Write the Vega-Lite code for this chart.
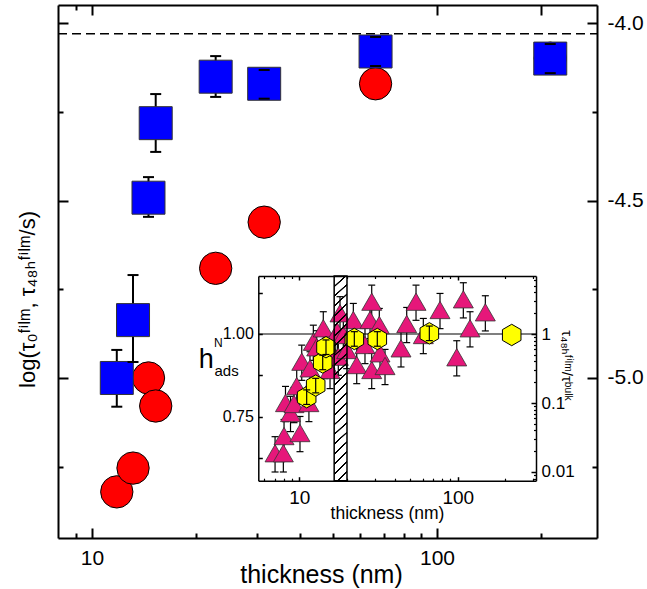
{
"$schema": "https://vega.github.io/schema/vega-lite/v6.json",
"width": 539, "height": 533,
"autosize": "none",
"padding": {"left": 58, "top": 5, "right": 50, "bottom": 51},
"background": "white",
"config": {
  "view": {"stroke": null},
  "axis": {"grid": false, "domainColor": "black", "tickColor": "black", "labelColor": "black", "titleColor": "black",
           "labelFont": "Liberation Sans", "titleFont": "Liberation Sans, DejaVu Sans", "titleFontWeight": "normal",
           "labelFlush": false, "labelOverlap": false, "domainWidth": 2, "tickWidth": 2}
},
"datasets": {
  "main": [
    {"t": 11.8, "sq": -5.0, "sqlo": -5.081, "sqhi": -4.921, "circ": -5.321},
    {"t": 13.15, "sq": -4.837, "sqlo": -4.955, "sqhi": -4.71, "circ": -5.254},
    {"t": 14.58, "sq": -4.492, "sqlo": -4.546, "sqhi": -4.434, "circ": -5.0},
    {"t": 15.3, "sq": -4.282, "sqlo": -4.363, "sqhi": -4.2, "circ": -5.079},
    {"t": 22.83, "sq": -4.151, "sqlo": -4.208, "sqhi": -4.093, "circ": -4.691},
    {"t": 31.56, "sq": -4.171, "sqlo": -4.213, "sqhi": -4.132, "circ": -4.561},
    {"t": 66.37, "sq": -4.08, "sqlo": -4.121, "sqhi": -4.039, "circ": -4.171},
    {"t": 213.0, "sq": -4.1, "sqlo": -4.141, "sqhi": -4.059, "circ": -4.099}
  ],
  "tri": [
    {"t": 7.03, "r": 0.0187, "rlo": 0.0100, "rhi": 0.0325},
    {"t": 7.93, "r": 0.0187, "rlo": 0.0100, "rhi": 0.0325},
    {"t": 8.01, "r": 0.0332, "rlo": 0.0178, "rhi": 0.0577},
    {"t": 10.1, "r": 0.0367, "rlo": 0.0197, "rhi": 0.0638},
    {"t": 8.18, "r": 0.100, "rlo": 0.0537, "rhi": 0.174},
    {"t": 8.80, "r": 0.0717, "rlo": 0.0385, "rhi": 0.125},
    {"t": 9.26, "r": 0.0967, "rlo": 0.0519, "rhi": 0.168},
    {"t": 9.63, "r": 0.176, "rlo": 0.0945, "rhi": 0.306},
    {"t": 11.5, "r": 0.100, "rlo": 0.0537, "rhi": 0.174},
    {"t": 10.36, "r": 0.397, "rlo": 0.213, "rhi": 0.690},
    {"t": 11.68, "r": 0.318, "rlo": 0.171, "rhi": 0.553},
    {"t": 12.26, "r": 0.773, "rlo": 0.415, "rhi": 1.343},
    {"t": 12.88, "r": 0.642, "rlo": 0.345, "rhi": 1.116},
    {"t": 14.17, "r": 1.21, "rlo": 0.650, "rhi": 2.103},
    {"t": 14.53, "r": 0.42, "rlo": 0.2255, "rhi": 0.730},
    {"t": 15.63, "r": 0.301, "rlo": 0.1616, "rhi": 0.523},
    {"t": 16.02, "r": 0.554, "rlo": 0.2975, "rhi": 0.963},
    {"t": 17.38, "r": 1.08, "rlo": 0.580, "rhi": 1.877},
    {"t": 17.63, "r": 0.469, "rlo": 0.252, "rhi": 0.815},
    {"t": 18.07, "r": 2.0, "rlo": 1.074, "rhi": 3.476},
    {"t": 18.96, "r": 0.967, "rlo": 0.519, "rhi": 1.681},
    {"t": 19.92, "r": 0.586, "rlo": 0.3147, "rhi": 1.018},
    {"t": 21.93, "r": 1.596, "rlo": 0.857, "rhi": 2.774},
    {"t": 23.04, "r": 0.355, "rlo": 0.1906, "rhi": 0.617},
    {"t": 25.98, "r": 0.693, "rlo": 0.372, "rhi": 1.204},
    {"t": 28.65, "r": 2.94, "rlo": 1.579, "rhi": 5.11},
    {"t": 27.95, "r": 1.596, "rlo": 0.857, "rhi": 2.774},
    {"t": 31.99, "r": 1.35, "rlo": 0.725, "rhi": 2.346},
    {"t": 28.65, "r": 0.301, "rlo": 0.1616, "rhi": 0.523},
    {"t": 32.32, "r": 0.525, "rlo": 0.282, "rhi": 0.912},
    {"t": 34.76, "r": 0.344, "rlo": 0.1847, "rhi": 0.598},
    {"t": 43.85, "r": 0.620, "rlo": 0.333, "rhi": 1.078},
    {"t": 47.64, "r": 1.396, "rlo": 0.750, "rhi": 2.426},
    {"t": 54.55, "r": 2.94, "rlo": 1.579, "rhi": 5.11},
    {"t": 60.65, "r": 0.967, "rlo": 0.519, "rhi": 1.681},
    {"t": 77.3, "r": 2.228, "rlo": 1.196, "rhi": 3.872},
    {"t": 98.6, "r": 0.46, "rlo": 0.247, "rhi": 0.799},
    {"t": 108.5, "r": 3.184, "rlo": 1.710, "rhi": 5.534},
    {"t": 119.6, "r": 1.21, "rlo": 0.650, "rhi": 2.103},
    {"t": 149.4, "r": 2.063, "rlo": 1.108, "rhi": 3.585}
  ],
  "hex": [
    {"t": 11.13, "h": 0.809, "hlo": 0.787, "hhi": 0.831},
    {"t": 12.69, "h": 0.844, "hlo": 0.822, "hhi": 0.866},
    {"t": 14.05, "h": 0.914, "hlo": 0.892, "hhi": 0.936},
    {"t": 14.74, "h": 0.960, "hlo": 0.938, "hhi": 0.982},
    {"t": 22.25, "h": 0.985, "hlo": 0.963, "hhi": 1.007},
    {"t": 31.07, "h": 0.985, "hlo": 0.963, "hhi": 1.007},
    {"t": 66.2, "h": 1.002, "hlo": 0.980, "hhi": 1.024},
    {"t": 219.2, "h": 0.997, "hlo": null, "hhi": null}
  ],
  "band": [{"t1": 16.6, "t2": 20.0}]
},
"resolve": {"scale": {"x": "independent", "y": "independent"}, "axis": {"x": "independent", "y": "independent"}},
"layer": [
  {
    "data": {"values": [{}]},
    "mark": {"type": "rule", "strokeDash": [9, 5], "strokeWidth": 1.5, "color": "black"},
    "encoding": {
      "x": {"datum": 7.97, "type": "quantitative", "scale": {"type": "log", "domain": [7.97, 291], "nice": false},
            "axis": {"orient": "bottom", "values": [10, 100], "tickSize": -10, "labelPadding": 19, "labelFontSize": 21,
                     "labelExpr": "datum.value < 50 ? '10' : '100'", "domain": true,
                     "title": "thickness (nm)", "titleFontSize": 25, "titleX": 263, "titleY": 44, "titleAlign": "center", "titleBaseline": "alphabetic", "titleAngle": 0}},
      "x2": {"datum": 291},
      "y": {"datum": -4.03, "type": "quantitative", "scale": {"type": "linear", "domain": [-5.451, -3.949], "nice": false, "zero": false},
            "axis": {"orient": "left", "values": [-5, -4.5, -4], "tickSize": -10, "labels": false, "domain": true,
                     "title": "log(τ₀ᶠⁱˡᵐ, τ₄₈ₕᶠⁱˡᵐ/s)", "titleFontSize": 22, "titleX": -24, "titleY": 294, "titleAngle": 270, "titleAlign": "center", "titleBaseline": "alphabetic"}}
    }
  },
  {
    "data": {"name": "main"},
    "mark": {"type": "point", "shape": "circle", "size": 1046, "filled": true, "fill": "#FF0000", "stroke": "black", "strokeWidth": 1, "opacity": 1},
    "encoding": {
      "x": {"field": "t", "type": "quantitative", "scale": {"type": "log", "domain": [7.97, 291], "nice": false},
            "axis": {"orient": "bottom", "values": [9, 20, 30, 40, 50, 60, 70, 80, 90, 200], "tickSize": -5, "labels": false, "domain": false, "title": null}},
      "y": {"field": "circ", "type": "quantitative", "scale": {"type": "linear", "domain": [-5.451, -3.949], "nice": false, "zero": false},
            "axis": {"orient": "left", "values": [-5.25, -4.75, -4.25], "tickSize": -5, "labels": false, "domain": false, "title": null}}
    }
  },
  {
    "data": {"name": "main"},
    "mark": {"type": "rule", "strokeWidth": 2, "color": "black"},
    "encoding": {
      "x": {"field": "t", "type": "quantitative", "scale": {"type": "log", "domain": [7.97, 291], "nice": false},
            "axis": {"orient": "top", "values": [10, 100, 200], "tickSize": -10, "labels": false, "domain": true, "title": null}},
      "y": {"field": "sqlo", "type": "quantitative", "scale": {"type": "linear", "domain": [-5.451, -3.949], "nice": false, "zero": false},
            "axis": {"orient": "right", "values": [-5, -4.5, -4], "tickSize": -10, "labelPadding": 20, "labelFontSize": 21,
                     "labelExpr": "datum.value > -4.25 ? '-4.0' : datum.value > -4.75 ? '-4.5' : '-5.0'", "domain": true, "title": null}},
      "y2": {"field": "sqhi"}
    }
  },
  {
    "data": {"name": "main"},
    "mark": {"type": "point", "shape": "square", "size": 1089, "filled": true, "fill": "#0000FF", "stroke": "#333333", "strokeWidth": 1, "opacity": 1},
    "encoding": {
      "x": {"field": "t", "type": "quantitative", "scale": {"type": "log", "domain": [7.97, 291], "nice": false},
            "axis": {"orient": "top", "values": [9], "tickSize": -5, "labels": false, "domain": false, "title": null}},
      "y": {"field": "sq", "type": "quantitative", "scale": {"type": "linear", "domain": [-5.451, -3.949], "nice": false, "zero": false},
            "axis": {"orient": "right", "values": [-5.25, -4.75, -4.25], "tickSize": -5, "labels": false, "domain": false, "title": null}}
    }
  },
  {
    "data": {"name": "main"},
    "mark": {"type": "point", "shape": "M-1,0L1,0", "size": 121, "filled": false, "stroke": "black", "strokeWidth": 2, "opacity": 1},
    "encoding": {
      "x": {"field": "t", "type": "quantitative", "scale": {"type": "log", "domain": [7.97, 291], "nice": false}, "axis": null},
      "y": {"field": "sqlo", "type": "quantitative", "scale": {"type": "linear", "domain": [-5.451, -3.949], "nice": false, "zero": false}, "axis": null}
    }
  },
  {
    "data": {"name": "main"},
    "mark": {"type": "point", "shape": "M-1,0L1,0", "size": 121, "filled": false, "stroke": "black", "strokeWidth": 2, "opacity": 1},
    "encoding": {
      "x": {"field": "t", "type": "quantitative", "scale": {"type": "log", "domain": [7.97, 291], "nice": false}, "axis": null},
      "y": {"field": "sqhi", "type": "quantitative", "scale": {"type": "linear", "domain": [-5.451, -3.949], "nice": false, "zero": false}, "axis": null}
    }
  },
  {
    "data": {"values": [{}]},
    "mark": {"type": "rule", "strokeWidth": 1.2, "color": "black"},
    "encoding": {
      "x": {"datum": 5.51, "type": "quantitative", "scale": {"type": "log", "domain": [5.51, 312], "range": [200.3, 478], "nice": false},
            "axis": {"orient": "bottom", "offset": -57.3, "values": [10, 100], "tickSize": -4, "labelPadding": 12, "labelFontSize": 19,
                     "labelExpr": "datum.value < 50 ? '10' : '100'", "domain": true, "domainWidth": 1.5, "tickWidth": 1.5,
                     "title": "thickness (nm)", "titleFontSize": 17.5, "titleX": 329, "titleY": 37.3, "titleAlign": "center", "titleBaseline": "alphabetic", "titleAngle": 0}},
      "x2": {"datum": 312},
      "y": {"datum": 1, "type": "quantitative", "scale": {"type": "linear", "domain": [0.5565, 1.1753], "range": [475.7, 271], "nice": false, "zero": false},
            "axis": {"orient": "left", "offset": -200.3, "values": [0.625, 0.75, 0.875, 1, 1.125], "tickSize": -4, "labelPadding": 9, "labelFontSize": 16,
                     "labelExpr": "datum.value == 1 ? '1.00' : datum.value == 0.75 ? '0.75' : ''", "domain": true, "domainWidth": 1.5, "tickWidth": 1.5,
                     "title": "h", "titleFontSize": 27, "titleX": -60, "titleY": 362, "titleAngle": 0, "titleAlign": "left", "titleBaseline": "alphabetic"}}
    }
  },
  {
    "data": {"name": "tri"},
    "mark": {"type": "rule", "strokeWidth": 1.2, "color": "black"},
    "encoding": {
      "x": {"field": "t", "type": "quantitative", "scale": {"type": "log", "domain": [5.51, 312], "range": [200.3, 478], "nice": false},
            "axis": {"orient": "bottom", "offset": -57.3, "values": [6, 7, 8, 9, 20, 30, 40, 50, 60, 70, 80, 90, 200, 300], "tickSize": -2.5, "tickWidth": 1.2, "labels": false, "domain": false, "title": null}},
      "y": {"field": "rlo", "type": "quantitative", "scale": {"type": "log", "domain": [0.00748, 6.93], "range": [475.7, 271], "nice": false},
            "axis": {"orient": "right", "offset": -61, "values": [0.01, 0.1, 1], "tickSize": -5, "labelPadding": 10, "labelFontSize": 17,
                     "labelExpr": "datum.value == 1 ? '1' : datum.value == 0.1 ? '0.1' : '0.01'", "domain": true, "domainWidth": 1.5, "tickWidth": 1.5,
                     "title": "τ₄₈ₕᶠⁱˡᵐ/τᵇᵘˡᵏ", "titleFontSize": 15, "titleAngle": 90, "titleX": 25, "titleY": 360, "titleAlign": "center", "titleBaseline": "alphabetic"}},
      "y2": {"field": "rhi"}
    }
  },
  {
    "data": {"name": "tri"},
    "mark": {"type": "point", "shape": "M-1,0L1,0", "size": 49, "filled": false, "stroke": "black", "strokeWidth": 1.2, "opacity": 1},
    "encoding": {
      "x": {"field": "t", "type": "quantitative", "scale": {"type": "log", "domain": [5.51, 312], "range": [200.3, 478], "nice": false},
            "axis": {"orient": "top", "offset": -271, "values": [10, 100], "tickSize": -4, "labels": false, "domain": true, "domainWidth": 1.5, "tickWidth": 1.5, "title": null}},
      "y": {"field": "rhi", "type": "quantitative", "scale": {"type": "log", "domain": [0.00748, 6.93], "range": [475.7, 271], "nice": false},
            "axis": {"orient": "right", "offset": -61, "values": [0.008, 0.009, 0.02, 0.03, 0.04, 0.05, 0.06, 0.07, 0.08, 0.09, 0.2, 0.3, 0.4, 0.5, 0.6, 0.7, 0.8, 0.9, 2, 3, 4, 5, 6], "tickSize": -2.5, "tickWidth": 1.2, "labels": false, "domain": false, "title": null}}
    }
  },
  {
    "data": {"name": "tri"},
    "mark": {"type": "point", "shape": "M-1,0L1,0", "size": 49, "filled": false, "stroke": "black", "strokeWidth": 1.2, "opacity": 1},
    "encoding": {
      "x": {"field": "t", "type": "quantitative", "scale": {"type": "log", "domain": [5.51, 312], "range": [200.3, 478], "nice": false},
            "axis": {"orient": "top", "offset": -271, "values": [6, 7, 8, 9, 20, 30, 40, 50, 60, 70, 80, 90, 200, 300], "tickSize": -2.5, "tickWidth": 1.2, "labels": false, "domain": false, "title": null}},
      "y": {"field": "rlo", "type": "quantitative", "scale": {"type": "log", "domain": [0.00748, 6.93], "range": [475.7, 271], "nice": false}, "axis": null}
    }
  },
  {
    "data": {"name": "tri"},
    "mark": {"type": "point", "shape": "triangle-up", "size": 400, "filled": true, "fill": "#E6177A", "stroke": "#333333", "strokeWidth": 0.8, "opacity": 1},
    "encoding": {
      "x": {"field": "t", "type": "quantitative", "scale": {"type": "log", "domain": [5.51, 312], "range": [200.3, 478], "nice": false}, "axis": null},
      "y": {"field": "r", "type": "quantitative", "scale": {"type": "log", "domain": [0.00748, 6.93], "range": [475.7, 271], "nice": false}, "axis": null}
    }
  },
  {
    "data": {"name": "hex"},
    "mark": {"type": "point", "shape": "M0,-1L0.866,-0.5L0.866,0.5L0,1L-0.866,0.5L-0.866,-0.5Z", "size": 460, "filled": true, "fill": "#FFFF00", "stroke": "black", "strokeWidth": 1, "opacity": 1},
    "encoding": {
      "x": {"field": "t", "type": "quantitative", "scale": {"type": "log", "domain": [5.51, 312], "range": [200.3, 478], "nice": false}, "axis": null},
      "y": {"field": "h", "type": "quantitative", "scale": {"type": "linear", "domain": [0.5565, 1.1753], "range": [475.7, 271], "nice": false, "zero": false},
            "axis": {"orient": "left", "offset": -200.3, "ticks": false, "labels": false, "domain": false,
                     "title": "N", "titleFontSize": 12, "titleX": -44.8, "titleY": 341, "titleAngle": 0, "titleAlign": "left", "titleBaseline": "alphabetic"}}
    }
  },
  {
    "data": {"name": "hex"},
    "mark": {"type": "rule", "strokeWidth": 1.2, "color": "black"},
    "encoding": {
      "x": {"field": "t", "type": "quantitative", "scale": {"type": "log", "domain": [5.51, 312], "range": [200.3, 478], "nice": false}, "axis": null},
      "y": {"field": "hlo", "type": "quantitative", "scale": {"type": "linear", "domain": [0.5565, 1.1753], "range": [475.7, 271], "nice": false, "zero": false},
            "axis": {"orient": "left", "offset": -200.3, "ticks": false, "labels": false, "domain": false,
                     "title": "ads", "titleFontSize": 15, "titleX": -44.3, "titleY": 370, "titleAngle": 0, "titleAlign": "left", "titleBaseline": "alphabetic"}},
      "y2": {"field": "hhi"}
    }
  },
  {
    "data": {"name": "hex"},
    "mark": {"type": "point", "shape": "M-1,0L1,0", "size": 49, "filled": false, "stroke": "black", "strokeWidth": 1.2, "opacity": 1},
    "encoding": {
      "x": {"field": "t", "type": "quantitative", "scale": {"type": "log", "domain": [5.51, 312], "range": [200.3, 478], "nice": false}, "axis": null},
      "y": {"field": "hhi", "type": "quantitative", "scale": {"type": "linear", "domain": [0.5565, 1.1753], "range": [475.7, 271], "nice": false, "zero": false}, "axis": null}
    }
  },
  {
    "data": {"name": "hex"},
    "mark": {"type": "point", "shape": "M-1,0L1,0", "size": 49, "filled": false, "stroke": "black", "strokeWidth": 1.2, "opacity": 1},
    "encoding": {
      "x": {"field": "t", "type": "quantitative", "scale": {"type": "log", "domain": [5.51, 312], "range": [200.3, 478], "nice": false}, "axis": null},
      "y": {"field": "hlo", "type": "quantitative", "scale": {"type": "linear", "domain": [0.5565, 1.1753], "range": [475.7, 271], "nice": false, "zero": false}, "axis": null}
    }
  },
  {
    "data": {"name": "band"},
    "mark": {"type": "rect", "stroke": "black", "strokeWidth": 1.5,
             "fill": {"gradient": "linear", "x1": 0, "y1": 0, "x2": 0.064, "y2": 1.056, "stops": [
               {"offset": 0, "color": "#000"}, {"offset": 0.008, "color": "#000"}, {"offset": 0.009, "color": "rgba(0,0,0,0)"}, {"offset": 0.0445, "color": "rgba(0,0,0,0)"},
               {"offset": 0.0455, "color": "#000"}, {"offset": 0.0535, "color": "#000"}, {"offset": 0.0545, "color": "rgba(0,0,0,0)"}, {"offset": 0.09, "color": "rgba(0,0,0,0)"},
               {"offset": 0.0909, "color": "#000"}, {"offset": 0.0989, "color": "#000"}, {"offset": 0.0999, "color": "rgba(0,0,0,0)"}, {"offset": 0.1354, "color": "rgba(0,0,0,0)"},
               {"offset": 0.1364, "color": "#000"}, {"offset": 0.1444, "color": "#000"}, {"offset": 0.1454, "color": "rgba(0,0,0,0)"}, {"offset": 0.1809, "color": "rgba(0,0,0,0)"},
               {"offset": 0.1818, "color": "#000"}, {"offset": 0.1898, "color": "#000"}, {"offset": 0.1908, "color": "rgba(0,0,0,0)"}, {"offset": 0.2263, "color": "rgba(0,0,0,0)"},
               {"offset": 0.2273, "color": "#000"}, {"offset": 0.2353, "color": "#000"}, {"offset": 0.2363, "color": "rgba(0,0,0,0)"}, {"offset": 0.2718, "color": "rgba(0,0,0,0)"},
               {"offset": 0.2727, "color": "#000"}, {"offset": 0.2807, "color": "#000"}, {"offset": 0.2817, "color": "rgba(0,0,0,0)"}, {"offset": 0.3172, "color": "rgba(0,0,0,0)"},
               {"offset": 0.3182, "color": "#000"}, {"offset": 0.3262, "color": "#000"}, {"offset": 0.3272, "color": "rgba(0,0,0,0)"}, {"offset": 0.3627, "color": "rgba(0,0,0,0)"},
               {"offset": 0.3636, "color": "#000"}, {"offset": 0.3716, "color": "#000"}, {"offset": 0.3726, "color": "rgba(0,0,0,0)"}, {"offset": 0.4081, "color": "rgba(0,0,0,0)"},
               {"offset": 0.4091, "color": "#000"}, {"offset": 0.4171, "color": "#000"}, {"offset": 0.4181, "color": "rgba(0,0,0,0)"}, {"offset": 0.4536, "color": "rgba(0,0,0,0)"},
               {"offset": 0.4545, "color": "#000"}, {"offset": 0.4625, "color": "#000"}, {"offset": 0.4635, "color": "rgba(0,0,0,0)"}, {"offset": 0.499, "color": "rgba(0,0,0,0)"},
               {"offset": 0.5, "color": "#000"}, {"offset": 0.508, "color": "#000"}, {"offset": 0.509, "color": "rgba(0,0,0,0)"}, {"offset": 0.5445, "color": "rgba(0,0,0,0)"},
               {"offset": 0.5455, "color": "#000"}, {"offset": 0.5535, "color": "#000"}, {"offset": 0.5545, "color": "rgba(0,0,0,0)"}, {"offset": 0.59, "color": "rgba(0,0,0,0)"},
               {"offset": 0.5909, "color": "#000"}, {"offset": 0.5989, "color": "#000"}, {"offset": 0.5999, "color": "rgba(0,0,0,0)"}, {"offset": 0.6354, "color": "rgba(0,0,0,0)"},
               {"offset": 0.6364, "color": "#000"}, {"offset": 0.6444, "color": "#000"}, {"offset": 0.6454, "color": "rgba(0,0,0,0)"}, {"offset": 0.6809, "color": "rgba(0,0,0,0)"},
               {"offset": 0.6818, "color": "#000"}, {"offset": 0.6898, "color": "#000"}, {"offset": 0.6908, "color": "rgba(0,0,0,0)"}, {"offset": 0.7263, "color": "rgba(0,0,0,0)"},
               {"offset": 0.7273, "color": "#000"}, {"offset": 0.7353, "color": "#000"}, {"offset": 0.7363, "color": "rgba(0,0,0,0)"}, {"offset": 0.7718, "color": "rgba(0,0,0,0)"},
               {"offset": 0.7727, "color": "#000"}, {"offset": 0.7807, "color": "#000"}, {"offset": 0.7817, "color": "rgba(0,0,0,0)"}, {"offset": 0.8172, "color": "rgba(0,0,0,0)"},
               {"offset": 0.8182, "color": "#000"}, {"offset": 0.8262, "color": "#000"}, {"offset": 0.8272, "color": "rgba(0,0,0,0)"}, {"offset": 0.8627, "color": "rgba(0,0,0,0)"},
               {"offset": 0.8636, "color": "#000"}, {"offset": 0.8716, "color": "#000"}, {"offset": 0.8726, "color": "rgba(0,0,0,0)"}, {"offset": 0.9081, "color": "rgba(0,0,0,0)"},
               {"offset": 0.9091, "color": "#000"}, {"offset": 0.9171, "color": "#000"}, {"offset": 0.9181, "color": "rgba(0,0,0,0)"}, {"offset": 0.9536, "color": "rgba(0,0,0,0)"},
               {"offset": 0.9545, "color": "#000"}, {"offset": 0.9625, "color": "#000"}, {"offset": 0.9635, "color": "rgba(0,0,0,0)"}, {"offset": 1, "color": "rgba(0,0,0,0)"}
             ]}},
    "encoding": {
      "x": {"field": "t1", "type": "quantitative", "scale": {"type": "log", "domain": [5.51, 312], "range": [200.3, 478], "nice": false}, "axis": null},
      "x2": {"field": "t2"},
      "y": {"datum": 0.5565, "type": "quantitative", "scale": {"type": "linear", "domain": [0.5565, 1.1753], "range": [475.7, 271], "nice": false, "zero": false}, "axis": null},
      "y2": {"datum": 1.1753}
    }
  }
]
}
